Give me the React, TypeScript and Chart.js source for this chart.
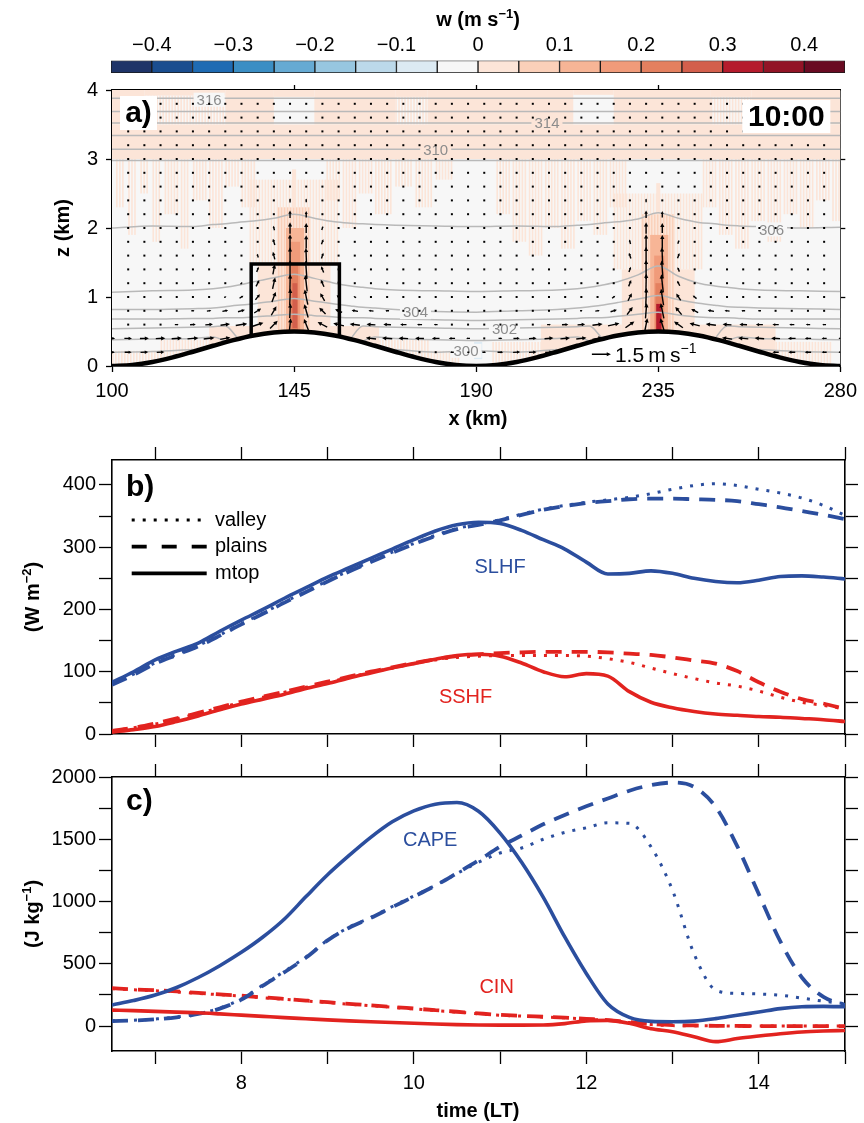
import React, { useEffect, useRef } from 'react';
import { Chart, registerables } from 'chart.js';

Chart.register(...registerables);

const FONT = "'Liberation Sans', Arial, Helvetica, sans-serif";
const BLUE = '#2b4e9e';
const RED = '#e2231f';
const BG = '#f7f7f7';

// ---------------- colour bar ----------------
const wEdges = [-0.45, -0.4, -0.35, -0.3, -0.25, -0.2, -0.15, -0.1, -0.05, 0, 0.05, 0.1, 0.15, 0.2, 0.25, 0.3, 0.35, 0.4, 0.45];
const wColors = ['#1f3468', '#1a4d8f', '#1f6bb3', '#3b8ec4', '#66aad3', '#97c6e0', '#bcd9ea', '#dceaf3', '#f7f7f7', '#fce5d8', '#fbd0b9', '#f7b596', '#f09b7a', '#e4805f', '#d35f4c', '#b51b2c', '#921426', '#690b22'];
const cbTickVals = [-0.4, -0.3, -0.2, -0.1, 0, 0.1, 0.2, 0.3, 0.4];
const cbTickLabels = ['\u22120.4', '\u22120.3', '\u22120.2', '\u22120.1', '0', '0.1', '0.2', '0.3', '0.4'];

// ---------------- panel a ----------------
const xKmTicks = [100, 145, 190, 235, 280];
const zKmTicks = [0, 1, 2, 3, 4];
const terrainX = [100, 105, 110, 115, 120, 125, 130, 135, 140, 145, 150, 155, 160, 165, 170, 175, 180, 185, 190, 195, 200, 205, 210, 215, 220, 225, 230, 235, 240, 245, 250, 255, 260, 265, 270, 275, 280];
const terrainZ = [0, 0.015, 0.058, 0.125, 0.207, 0.293, 0.375, 0.442, 0.485, 0.5, 0.485, 0.442, 0.375, 0.293, 0.207, 0.125, 0.058, 0.015, 0, 0.015, 0.058, 0.125, 0.207, 0.293, 0.375, 0.442, 0.485, 0.5, 0.485, 0.442, 0.375, 0.293, 0.207, 0.125, 0.058, 0.015, 0];
const boxX = [134.4, 134.4, 156.2, 156.2];
const boxZ = [0.43, 1.48, 1.48, 0.43];

// potential temperature contours (K)
const flatContourZ = [3.88, 3.69, 3.52, 3.34, 3.14, 2.98];
const contourX = [100, 110, 120, 125, 128, 131, 135, 140, 145, 150, 155, 159, 162, 165, 170, 180, 190, 200, 210, 215, 218, 221, 225, 230, 235, 240, 245, 249, 252, 255, 260, 270, 280];
const theta306 = [2.0, 2.03, 2.02, 2.05, 2.06, 2.08, 2.1, 2.14, 2.2, 2.14, 2.09, 2.07, 2.06, 2.05, 2.04, 2.03, 2.02, 2.03, 2.02, 2.04, 2.05, 2.07, 2.09, 2.13, 2.22, 2.14, 2.08, 2.06, 2.04, 2.03, 2.02, 2.0, 2.01];
const theta305 = [1.07, 1.09, 1.1, 1.12, 1.14, 1.17, 1.22, 1.28, 1.33, 1.27, 1.2, 1.16, 1.14, 1.12, 1.1, 1.09, 1.08, 1.09, 1.1, 1.12, 1.14, 1.17, 1.22, 1.32, 1.45, 1.3, 1.2, 1.16, 1.14, 1.12, 1.1, 1.09, 1.08];
const theta304 = [0.82, 0.82, 0.83, 0.84, 0.86, 0.88, 0.9, 0.94, 0.98, 0.94, 0.9, 0.87, 0.85, 0.84, 0.82, 0.79, 0.78, 0.8, 0.82, 0.84, 0.86, 0.88, 0.92, 0.97, 1.02, 0.96, 0.91, 0.88, 0.86, 0.85, 0.84, 0.83, 0.82];
const theta303 = [0.68, 0.68, 0.69, 0.69, 0.7, 0.7, 0.71, 0.73, 0.75, 0.73, 0.71, 0.7, 0.7, 0.69, 0.68, 0.67, 0.66, 0.67, 0.68, 0.69, 0.7, 0.7, 0.72, 0.75, 0.78, 0.74, 0.71, 0.7, 0.7, 0.69, 0.68, 0.68, 0.68];
const theta302 = [0.54, 0.55, 0.56, 0.57, 0.58, 0.41, null, null, null, null, null, 0.4, 0.58, 0.57, 0.56, 0.55, 0.54, 0.55, 0.56, 0.57, 0.58, 0.41, null, null, null, null, null, 0.4, 0.58, 0.57, 0.56, 0.55, 0.54];
const theta301 = [0.38, 0.39, 0.4, 0.42, 0.36, null, null, null, null, null, null, null, 0.36, 0.42, 0.4, 0.38, 0.37, 0.38, 0.4, 0.42, 0.36, null, null, null, null, null, null, null, 0.36, 0.42, 0.4, 0.39, 0.38];
const theta300 = [0.2, 0.21, 0.24, null, null, null, null, null, null, null, null, null, null, null, 0.24, 0.2, 0.22, 0.2, 0.24, null, null, null, null, null, null, null, null, null, null, null, 0.24, 0.21, 0.2];
const contourLabelText = ['316', '314', '310', '306', '304', '302', '300'];
const contourLabelX = [124, 207.5, 180, 263, 175, 197, 187.5];
const contourLabelZ = [3.86, 3.52, 3.13, 1.98, 0.78, 0.54, 0.22];

// vertical velocity field, [x0, x1, z0, z1, w, streaky]
const wCells: number[][] = [
  [100, 280, 3.0, 3.5, 0.02, 0], [100, 108, 3.5, 4.0, 0.02, 0], [128, 140, 3.5, 4.0, 0.02, 0], [150, 170, 3.5, 4.0, 0.02, 0],
  [178, 214, 3.5, 4.0, 0.02, 0], [224, 248, 3.5, 4.0, 0.02, 0], [258, 280, 3.5, 4.0, 0.02, 0], [108, 128, 3.92, 4.0, 0.02, 0],
  [140, 150, 3.9, 4.0, 0.02, 0], [170, 178, 3.9, 4.0, 0.02, 0], [214, 224, 3.93, 4.0, 0.02, 0], [248, 258, 3.9, 4.0, 0.02, 0],
  [108, 128, 3.5, 3.92, 0.02, 1], [170, 178, 3.5, 3.9, 0.02, 1], [248, 258, 3.5, 3.9, 0.02, 1],
  [101, 103, 2.3, 3.0, 0.02, 1], [104, 106, 1.9, 3.0, 0.02, 1], [107, 109, 2.5, 3.0, 0.02, 1], [110, 112, 1.8, 3.0, 0.02, 1],
  [113, 116, 2.2, 3.0, 0.02, 1], [117, 119, 1.7, 3.0, 0.02, 1], [120, 123, 2.4, 3.0, 0.02, 1], [124, 127, 2.0, 3.0, 0.02, 1],
  [128, 131, 2.6, 3.0, 0.02, 1], [132, 135, 2.3, 3.0, 0.02, 1],
  [153, 156, 2.4, 3.0, 0.02, 1], [157, 160, 2.0, 3.0, 0.02, 1], [161, 164, 2.5, 3.0, 0.02, 1], [165, 169, 2.2, 3.0, 0.02, 1],
  [170, 174, 2.6, 3.0, 0.02, 1], [175, 179, 2.3, 3.0, 0.02, 1], [180, 184, 2.7, 3.0, 0.02, 1],
  [195, 198, 2.2, 3.0, 0.02, 1], [199, 202, 1.8, 3.0, 0.02, 1], [203, 206, 1.6, 3.0, 0.02, 1], [207, 210, 2.0, 3.0, 0.02, 1],
  [211, 214, 1.7, 3.0, 0.02, 1], [215, 218, 2.1, 3.0, 0.02, 1], [219, 222, 1.9, 3.0, 0.02, 1], [223, 227, 2.3, 3.0, 0.02, 1],
  [246, 249, 2.3, 3.0, 0.02, 1], [250, 253, 1.9, 3.0, 0.02, 1], [254, 257, 1.7, 3.0, 0.02, 1], [258, 261, 2.1, 3.0, 0.02, 1],
  [262, 265, 1.8, 3.0, 0.02, 1], [266, 269, 2.2, 3.0, 0.02, 1], [270, 273, 2.0, 3.0, 0.02, 1], [274, 277, 2.4, 3.0, 0.02, 1],
  [278, 280, 2.1, 3.0, 0.02, 1],
  [100, 112, 0, 0.22, 0.02, 1], [112, 124, 0, 0.38, 0.02, 1], [124, 138, 0, 0.58, 0.02, 0], [152, 166, 0, 0.58, 0.02, 0],
  [166, 178, 0, 0.38, 0.02, 1], [178, 186, 0, 0.22, 0.02, 1], [194, 206, 0, 0.35, 0.02, 1], [206, 226, 0, 0.6, 0.02, 0],
  [244, 264, 0, 0.6, 0.02, 0], [264, 278, 0, 0.35, 0.02, 1], [189.5, 191.5, 0.1, 0.35, -0.07, 0],
  [134, 156, 1.5, 2.7, 0.02, 1], [136, 154, 0.45, 1.5, 0.02, 0], [141, 149, 0.5, 2.3, 0.07, 1], [143, 147.5, 0.5, 2.0, 0.12, 0], [144, 146.5, 0.5, 1.8, 0.17, 0],
  [144.3, 146, 0.5, 1.5, 0.22, 0], [144.6, 145.8, 0.55, 1.2, 0.28, 0], [144.5, 145.5, 2.3, 2.85, 0.02, 0],
  [224, 246, 1.4, 2.5, 0.02, 1], [226, 244, 0.45, 1.4, 0.02, 0], [231, 239, 0.5, 2.2, 0.07, 1], [233, 237.5, 0.5, 1.9, 0.12, 0], [234, 236.5, 0.5, 1.6, 0.17, 0],
  [234.3, 236, 0.5, 1.2, 0.22, 0], [234.5, 235.8, 0.52, 0.9, 0.32, 0], [234.5, 235.5, 2.2, 2.65, 0.02, 0],
];

// wind vectors: sample grid and the non-negligible arrows [x, z, u, w]
const vecX = [104, 108, 112, 116, 120, 124, 128, 132, 136, 140, 144, 148, 152, 156, 160, 164, 168, 172, 176, 180, 184, 188, 192, 196, 200, 204, 208, 212, 216, 220, 224, 228, 232, 236, 240, 244, 248, 252, 256, 260, 264, 268, 272, 276];
const vecZ = [0.2, 0.4, 0.6, 0.8, 1.0, 1.2, 1.4, 1.6, 1.8, 2.0, 2.2, 2.4, 2.6, 2.8, 3.0, 3.2, 3.4, 3.6, 3.8];
const windArrows: number[][] = [
  [100, 0.2, 0.45, 0], [104, 0.2, 0.55, 0], [108, 0.2, 0.6, 0.02], [112, 0.2, 0.6, 0.03], [184, 0.2, -0.3, 0], [188, 0.2, -0.2, 0],
  [100, 0.4, 0.5, 0], [104, 0.4, 0.6, 0], [108, 0.4, 0.7, 0.02], [112, 0.4, 0.75, 0.03], [116, 0.4, 0.8, 0.05], [120, 0.4, 0.85, 0.08],
  [124, 0.4, 0.85, 0.1], [128, 0.4, 0.8, 0.15], [164, 0.4, -0.8, 0.1], [168, 0.4, -0.8, 0.06], [172, 0.4, -0.75, 0.04],
  [176, 0.4, -0.7, 0.02], [180, 0.4, -0.6, 0], [184, 0.4, -0.5, 0], [188, 0.4, -0.3, 0],
  [116, 0.6, 0.3, 0], [120, 0.6, 0.45, 0.03], [124, 0.6, 0.6, 0.05], [128, 0.6, 0.75, 0.1], [132, 0.6, 0.9, 0.15], [136, 0.6, 0.9, 0.3],
  [140, 0.6, 0.6, 0.6], [144, 0.6, 0.1, 1.0], [148, 0.6, -0.35, 0.9], [152, 0.6, -0.75, 0.4], [156, 0.6, -0.85, 0.2], [160, 0.6, -0.8, 0.1],
  [164, 0.6, -0.7, 0.05], [168, 0.6, -0.6, 0.02], [172, 0.6, -0.5, 0], [176, 0.6, -0.4, 0], [180, 0.6, -0.3, 0],
  [120, 0.8, 0.25, 0], [124, 0.8, 0.35, 0.05], [128, 0.8, 0.45, 0.1], [132, 0.8, 0.55, 0.15], [136, 0.8, 0.55, 0.35], [140, 0.8, 0.4, 0.7],
  [144, 0.8, 0.05, 1.15], [148, 0.8, -0.3, 1.05], [152, 0.8, -0.5, 0.5], [156, 0.8, -0.55, 0.25], [160, 0.8, -0.5, 0.1], [164, 0.8, -0.4, 0.05], [168, 0.8, -0.3, 0],
  [128, 1.0, 0.2, 0.05], [132, 1.0, 0.3, 0.2], [136, 1.0, 0.35, 0.45], [140, 1.0, 0.3, 0.8], [144, 1.0, 0.05, 1.3], [148, 1.0, -0.25, 1.2],
  [152, 1.0, -0.35, 0.6], [156, 1.0, -0.3, 0.3], [160, 1.0, -0.2, 0.1],
  [132, 1.2, 0.15, 0.15], [136, 1.2, 0.25, 0.5], [140, 1.2, 0.2, 0.9], [144, 1.2, 0.03, 1.4], [148, 1.2, -0.15, 1.3], [152, 1.2, -0.25, 0.55], [156, 1.2, -0.15, 0.25],
  [136, 1.4, 0.15, 0.4], [140, 1.4, 0.15, 0.8], [144, 1.4, 0, 1.45], [148, 1.4, -0.1, 1.35], [152, 1.4, -0.2, 0.5],
  [136, 1.6, -0.1, 0.3], [140, 1.6, -0.15, 0.6], [144, 1.6, 0, 1.3], [148, 1.6, -0.05, 1.2], [152, 1.6, 0.15, 0.45],
  [140, 1.8, -0.15, 0.5], [144, 1.8, 0, 1.2], [148, 1.8, 0, 1.05], [152, 1.8, 0.15, 0.4],
  [140, 2.0, -0.1, 0.35], [144, 2.0, 0, 0.9], [148, 2.0, 0, 0.8], [152, 2.0, 0.1, 0.3],
  [144, 2.2, 0, 0.6], [148, 2.2, 0, 0.5], [144, 2.4, 0, 0.35], [148, 2.4, 0, 0.3],
  [192, 0.2, 0.3, 0], [196, 0.2, 0.45, 0], [200, 0.2, 0.55, 0.02], [204, 0.2, 0.6, 0.03], [208, 0.2, 0.6, 0.04],
  [264, 0.2, -0.5, 0], [268, 0.2, -0.55, 0], [272, 0.2, -0.5, 0], [276, 0.2, -0.4, 0], [280, 0.2, -0.3, 0],
  [196, 0.4, 0.3, 0], [200, 0.4, 0.5, 0.02], [204, 0.4, 0.6, 0.03], [208, 0.4, 0.7, 0.05], [212, 0.4, 0.75, 0.07], [216, 0.4, 0.8, 0.1],
  [220, 0.4, 0.8, 0.15], [252, 0.4, -0.8, 0.12], [256, 0.4, -0.8, 0.08], [260, 0.4, -0.75, 0.05], [264, 0.4, -0.7, 0.03],
  [268, 0.4, -0.6, 0], [272, 0.4, -0.5, 0], [276, 0.4, -0.4, 0], [280, 0.4, -0.3, 0],
  [208, 0.6, 0.3, 0], [212, 0.6, 0.5, 0.03], [216, 0.6, 0.6, 0.05], [220, 0.6, 0.8, 0.1], [224, 0.6, 0.9, 0.2], [228, 0.6, 0.7, 0.5],
  [232, 0.6, 0.2, 1.0], [236, 0.6, -0.3, 1.0], [240, 0.6, -0.7, 0.5], [244, 0.6, -0.8, 0.2], [248, 0.6, -0.8, 0.1], [252, 0.6, -0.7, 0.05],
  [256, 0.6, -0.6, 0.02], [260, 0.6, -0.55, 0], [264, 0.6, -0.5, 0], [268, 0.6, -0.4, 0], [272, 0.6, -0.35, 0], [276, 0.6, -0.3, 0],
  [216, 0.8, 0.2, 0], [220, 0.8, 0.35, 0.05], [224, 0.8, 0.5, 0.15], [228, 0.8, 0.45, 0.6], [232, 0.8, 0.1, 1.2], [236, 0.8, -0.25, 1.2],
  [240, 0.8, -0.5, 0.6], [244, 0.8, -0.55, 0.3], [248, 0.8, -0.5, 0.1], [252, 0.8, -0.4, 0.05], [256, 0.8, -0.3, 0], [260, 0.8, -0.25, 0],
  [224, 1.0, 0.25, 0.2], [228, 1.0, 0.3, 0.6], [232, 1.0, 0.05, 1.4], [236, 1.0, -0.2, 1.3], [240, 1.0, -0.35, 0.55], [244, 1.0, -0.3, 0.25],
  [228, 1.2, 0.2, 0.5], [232, 1.2, 0.03, 1.5], [236, 1.2, -0.15, 1.4], [240, 1.2, -0.2, 0.4],
  [228, 1.4, 0.15, 0.4], [232, 1.4, 0, 1.5], [236, 1.4, -0.1, 1.4], [240, 1.4, -0.15, 0.35],
  [228, 1.6, -0.15, 0.45], [232, 1.6, 0, 1.4], [236, 1.6, -0.05, 1.3], [240, 1.6, 0.15, 0.4],
  [228, 1.8, -0.1, 0.35], [232, 1.8, 0, 1.2], [236, 1.8, 0, 1.1], [240, 1.8, 0.1, 0.3],
  [232, 2.0, 0, 0.9], [236, 2.0, 0, 0.8], [232, 2.2, 0, 0.6], [236, 2.2, 0, 0.5], [232, 2.4, 0, 0.3],
];
const refArrowX = 218.6;
const refArrowZ = 0.17;
const refArrowU = 1.5;

// ---------------- panels b and c ----------------
const times = [6.5, 6.75, 7, 7.25, 7.5, 7.75, 8, 8.25, 8.5, 8.75, 9, 9.25, 9.5, 9.75, 10, 10.25, 10.5, 10.75, 11, 11.25, 11.5, 11.75, 12, 12.25, 12.5, 12.75, 13, 13.25, 13.5, 13.75, 14, 14.25, 14.5, 14.75, 15];
const hourTicks = [7, 8, 9, 10, 11, 12, 13, 14, 15];
const fluxTicks = [0, 50, 100, 150, 200, 250, 300, 350, 400];
const energyTicks = [0, 250, 500, 750, 1000, 1250, 1500, 1750, 2000];

const slhfMtop = [83, 100, 119, 133, 146, 165, 183, 200, 218, 235, 252, 267, 282, 297, 312, 326, 336, 340, 338, 327, 312, 297, 276, 257, 258, 262, 258, 250, 245, 243, 247, 253, 254, 252, 249];
const slhfPlains = [79, 95, 113, 127, 141, 158, 176, 193, 211, 228, 245, 261, 276, 291, 305, 318, 329, 336, 343, 352, 360, 366, 371, 374, 377, 378, 378, 377, 376, 374, 369, 364, 358, 352, 345];
const slhfValley = [80, 96, 114, 128, 142, 159, 177, 194, 212, 229, 246, 262, 277, 292, 306, 319, 330, 337, 344, 353, 361, 367, 372, 376, 380, 386, 393, 399, 402, 399, 393, 387, 379, 367, 351];
const sshfMtop = [3, 7, 12, 20, 29, 39, 48, 56, 64, 73, 81, 90, 98, 106, 113, 120, 126, 128, 125, 114, 100, 92, 97, 93, 68, 51, 42, 36, 32, 30, 28, 27, 25, 23, 20];
const sshfPlains = [5, 10, 17, 25, 34, 43, 52, 60, 68, 76, 84, 92, 100, 107, 114, 120, 125, 128, 130, 131, 132, 132, 132, 131, 129, 127, 123, 118, 113, 101, 83, 68, 56, 49, 40];
const sshfValley = [5, 10, 16, 24, 33, 42, 51, 59, 67, 75, 83, 91, 99, 106, 113, 119, 123, 125, 126, 126, 126, 126, 125, 121, 115, 106, 97, 89, 82, 77, 69, 59, 51, 46, 40];

const capeMtop = [169, 205, 249, 310, 390, 485, 592, 715, 860, 1040, 1215, 1370, 1515, 1640, 1728, 1782, 1795, 1725, 1550, 1315, 1035, 716, 423, 178, 70, 38, 35, 40, 60, 87, 113, 140, 155, 158, 155];
const capePlains = [40, 45, 55, 70, 97, 140, 212, 325, 433, 550, 688, 790, 868, 955, 1040, 1128, 1228, 1330, 1440, 1530, 1620, 1695, 1765, 1828, 1890, 1935, 1955, 1920, 1760, 1445, 1060, 680, 390, 235, 170];
const capeValley = [42, 47, 57, 72, 100, 145, 218, 330, 440, 555, 690, 795, 872, 960, 1045, 1130, 1225, 1315, 1390, 1430, 1500, 1555, 1592, 1632, 1628, 1440, 1090, 580, 290, 262, 258, 248, 225, 200, 180];
const cinMtop = [128, 124, 118, 112, 107, 98, 88, 78, 68, 59, 50, 42, 35, 29, 23, 17, 12, 9, 8, 8, 9, 20, 42, 46, 22, -22, -45, -85, -125, -100, -80, -62, -48, -40, -35];
const cinPlains = [305, 295, 288, 278, 266, 255, 244, 231, 218, 205, 192, 179, 166, 154, 141, 128, 115, 102, 90, 82, 75, 68, 58, 48, 32, 16, 8, 5, 2, 1, 0, 0, 0, 0, 0];
const cinValley = [300, 292, 284, 274, 263, 252, 241, 228, 215, 202, 189, 176, 163, 151, 138, 125, 112, 99, 87, 80, 73, 66, 56, 45, 28, 12, 4, 3, 2, 1, 1, 1, 0, 0, 0];

// ---------------- helpers ----------------
type Part = [string, boolean];
function richText(ctx: any, parts: Part[], x: number, y: number, size: number, weight: string, align: string, rotate: boolean, color = '#000') {
  ctx.save();
  ctx.translate(x, y);
  if (rotate) ctx.rotate(-Math.PI / 2);
  const big = `${weight} ${size}px ${FONT}`;
  const small = `${weight} ${Math.round(size * 0.66)}px ${FONT}`;
  let w = 0;
  for (const [t, sup] of parts) { ctx.font = sup ? small : big; w += ctx.measureText(t).width; }
  let cx = align === 'center' ? -w / 2 : 0;
  ctx.fillStyle = color;
  ctx.textAlign = 'left';
  ctx.textBaseline = 'alphabetic';
  const base = size * 0.36;
  for (const [t, sup] of parts) {
    ctx.font = sup ? small : big;
    ctx.fillText(t, cx, sup ? base - size * 0.42 : base);
    cx += ctx.measureText(t).width;
  }
  ctx.restore();
}

function colorForW(w: number) {
  for (let i = 0; i < wColors.length; i++) if (w >= wEdges[i] && w < wEdges[i + 1]) return wColors[i];
  return w < 0 ? wColors[0] : wColors[wColors.length - 1];
}

function terrainAt(x: number) {
  for (let i = 0; i < terrainX.length - 1; i++) {
    if (x >= terrainX[i] && x <= terrainX[i + 1]) {
      const f = (x - terrainX[i]) / (terrainX[i + 1] - terrainX[i]);
      return terrainZ[i] + f * (terrainZ[i + 1] - terrainZ[i]);
    }
  }
  return 0;
}

function drawArrow(ctx: any, cx: number, cy: number, dx: number, dy: number) {
  const len = Math.hypot(dx, dy);
  if (len < 2.2) { ctx.fillRect(cx - 1, cy - 1, 2, 2); return; }
  const x0 = cx - dx / 2, y0 = cy - dy / 2, x1 = cx + dx / 2, y1 = cy + dy / 2;
  const c = dx / len, s = dy / len;
  const hl = Math.min(4.2, len * 0.45), hw = hl * 0.5;
  ctx.beginPath();
  ctx.moveTo(x0, y0);
  ctx.lineTo(x1 - c * hl * 0.6, y1 - s * hl * 0.6);
  ctx.stroke();
  ctx.beginPath();
  ctx.moveTo(x1, y1);
  ctx.lineTo(x1 - hl * c + hw * s, y1 - hl * s - hw * c);
  ctx.lineTo(x1 - hl * c - hw * s, y1 - hl * s + hw * c);
  ctx.closePath();
  ctx.fill();
}

function axis(o: any) {
  const horiz = o.pos === 'top' || o.pos === 'bottom';
  return {
    type: 'linear',
    position: o.pos,
    min: o.min,
    max: o.max,
    afterBuildTicks: (s: any) => { s.ticks = o.ticks.map((v: number) => ({ value: v })); },
    afterFit: (s: any) => { if (horiz) s.height = o.size; else s.width = o.size; },
    grid: { drawOnChartArea: false, drawTicks: true, tickLength: o.tickLen, tickWidth: 1.3, tickColor: '#000', color: '#000' },
    border: { display: true, color: '#000', width: o.border || 1.6 },
    ticks: {
      display: !!o.label,
      callback: (v: any) => (o.label ? o.label(Number(v)) : ''),
      font: { family: FONT, size: 20 },
      color: '#000',
      padding: o.pad === undefined ? 6 : o.pad,
      autoSkip: false,
      maxRotation: 0,
      minRotation: 0,
    },
  };
}

const baseOptions = {
  responsive: false,
  animation: false,
  events: [],
  layout: { padding: 0 },
  plugins: { legend: { display: false }, tooltip: { enabled: false } },
};

// ---------------- charts ----------------
function makeColorbar(canvas: HTMLCanvasElement) {
  return new Chart(canvas, {
    type: 'bar',
    data: {
      labels: ['w'],
      datasets: wColors.map((c, i) => ({
        data: [[wEdges[i], wEdges[i + 1]]],
        backgroundColor: c,
        borderColor: '#1a1a1a',
        borderWidth: 1,
        borderSkipped: false,
        grouped: false,
        barPercentage: 1,
        categoryPercentage: 1,
      })),
    } as any,
    options: {
      ...baseOptions,
      indexAxis: 'y',
      layout: { padding: { left: 111, right: 19, bottom: 7, top: 0 } },
      scales: {
        x: {
          type: 'linear', position: 'top', min: -0.45, max: 0.45,
          afterBuildTicks: (s: any) => { s.ticks = cbTickVals.map((v) => ({ value: v })); },
          afterFit: (s: any) => { s.height = 60.5; },
          grid: { display: false, drawTicks: false },
          border: { display: false },
          ticks: { callback: (_v: any, i: number) => cbTickLabels[i], font: { family: FONT, size: 20 }, color: '#000', padding: 3, autoSkip: false, maxRotation: 0 },
        },
        y: { display: false },
      },
    } as any,
    plugins: [{
      id: 'cbTitle',
      afterDraw(chart: any) {
        richText(chart.ctx, [['w (m s', false], ['\u22121', true], [')', false]], 478, 19, 20, 'bold', 'center', false);
      },
    }],
  });
}

function makePanelA(canvas: HTMLCanvasElement, top: number) {
  const contourStyle = { showLine: true, pointRadius: 0, borderColor: '#b9b9b9', borderWidth: 1.5, order: 10 };
  const datasets: any[] = [];
  for (const z of flatContourZ) datasets.push({ ...contourStyle, data: [{ x: 100, y: z }, { x: 280, y: z }] });
  for (const arr of [theta306, theta305, theta304, theta303, theta302, theta301, theta300]) {
    datasets.push({ ...contourStyle, cubicInterpolationMode: 'monotone', data: contourX.map((x, i) => ({ x, y: arr[i] })) });
  }
  datasets.push({
    showLine: true, pointRadius: 0, borderColor: '#000', borderWidth: 4.5, backgroundColor: '#ffffff', fill: 'origin',
    cubicInterpolationMode: 'monotone', order: 1, data: terrainX.map((x, i) => ({ x, y: terrainZ[i] })),
  });
  datasets.push({
    showLine: true, pointRadius: 0, borderColor: '#000', borderWidth: 3.5, borderJoinStyle: 'miter', order: 0,
    data: boxX.map((x, i) => ({ x, y: boxZ[i] })),
  });

  const shade = {
    id: 'shade',
    beforeDatasetsDraw(chart: any) {
      const { ctx, chartArea: a, scales } = chart;
      const sx = scales.x, sy = scales.y;
      ctx.save();
      ctx.beginPath();
      ctx.rect(a.left, a.top, a.right - a.left, a.bottom - a.top);
      ctx.clip();
      ctx.fillStyle = BG;
      ctx.fillRect(a.left, a.top, a.right - a.left, a.bottom - a.top);
      for (const [x0, x1, z0, z1, w, streaky] of wCells) {
        const p0 = sx.getPixelForValue(x0), p1 = sx.getPixelForValue(x1);
        const q0 = sy.getPixelForValue(z0), q1 = sy.getPixelForValue(z1);
        ctx.fillStyle = colorForW(w);
        if (streaky) {
          for (let px = p0; px < p1; px += 3) ctx.fillRect(px, q1, 1.6, q0 - q1);
        } else {
          ctx.fillRect(p0, q1, p1 - p0, q0 - q1);
        }
      }
      ctx.restore();
    },
  };

  const overlay = {
    id: 'overlay',
    afterDatasetsDraw(chart: any) {
      const { ctx, chartArea: a, scales } = chart;
      const sx = scales.x, sy = scales.y;
      const k = 12.7;
      ctx.save();
      ctx.beginPath();
      ctx.rect(a.left, a.top, a.right - a.left, a.bottom - a.top);
      ctx.clip();
      // contour labels
      ctx.font = `15px ${FONT}`;
      ctx.textAlign = 'center';
      ctx.textBaseline = 'middle';
      contourLabelText.forEach((t, i) => {
        const px = sx.getPixelForValue(contourLabelX[i]);
        const py = sy.getPixelForValue(contourLabelZ[i]);
        let col = BG;
        for (const [x0, x1, z0, z1, w, streaky] of wCells) {
          if (!streaky && contourLabelX[i] >= x0 && contourLabelX[i] <= x1 && contourLabelZ[i] >= z0 && contourLabelZ[i] <= z1) col = colorForW(w);
        }
        const tw = ctx.measureText(t).width;
        ctx.fillStyle = col;
        ctx.fillRect(px - tw / 2 - 3, py - 7, tw + 6, 14);
        ctx.fillStyle = '#8c8c8c';
        ctx.fillText(t, px, py + 1);
      });
      // vectors
      ctx.fillStyle = '#000';
      ctx.strokeStyle = '#000';
      ctx.lineWidth = 1.4;
      const have = new Set(windArrows.map((v) => `${v[0]}_${Math.round(v[1] * 10)}`));
      for (const gx of vecX) {
        for (const gz of vecZ) {
          if (have.has(`${gx}_${Math.round(gz * 10)}`)) continue;
          if (gz < terrainAt(gx) + 0.06) continue;
          const px = sx.getPixelForValue(gx), py = sy.getPixelForValue(gz);
          ctx.fillRect(px - 1, py - 1, 2, 2);
        }
      }
      for (const [vx, vz, u, w] of windArrows) {
        drawArrow(ctx, sx.getPixelForValue(vx), sy.getPixelForValue(vz), u * k, -w * k);
      }
      // reference vector
      const rx = sx.getPixelForValue(refArrowX), ry = sy.getPixelForValue(refArrowZ);
      drawArrow(ctx, rx + (refArrowU * k) / 2, ry, refArrowU * k, 0);
      richText(ctx, [['1.5\u2009m\u2009s', false], ['\u22121', true]], rx + refArrowU * k + 4, ry, 21, 'normal', 'left', false);
      // panel label and time
      ctx.fillStyle = '#fff';
      ctx.fillRect(a.left + 8, a.top + 6, 37, 34);
      ctx.fillRect(a.right - 98, a.top + 10, 88, 33);
      ctx.fillStyle = '#000';
      ctx.font = `bold 30px ${FONT}`;
      ctx.textAlign = 'center';
      ctx.textBaseline = 'middle';
      ctx.fillText('a)', a.left + 26.5, a.top + 24);
      ctx.fillText('10:00', a.right - 54, a.top + 28);
      ctx.restore();
    },
    afterDraw(chart: any) {
      richText(chart.ctx, [['z (km)', false]], 62, 228 - top, 20, 'bold', 'center', true);
      richText(chart.ctx, [['x (km)', false]], 478, 418 - top, 20, 'bold', 'center', false);
    },
  };

  return new Chart(canvas, {
    type: 'scatter',
    data: { datasets },
    options: {
      ...baseOptions,
      scales: {
        x: axis({ pos: 'bottom', min: 100, max: 280, ticks: xKmTicks, label: (v: number) => String(v), size: 74, tickLen: 6, pad: 7, border: 1.8 }),
        x2: axis({ pos: 'top', min: 100, max: 280, ticks: [145, 190, 235], size: 25, tickLen: 5, border: 1.8 }),
        y: axis({ pos: 'left', min: 0, max: 4, ticks: zKmTicks, label: (v: number) => String(v), size: 112, tickLen: 6, pad: 8, border: 1.8 }),
        y2: axis({ pos: 'right', min: 0, max: 4, ticks: [1, 2, 3], size: 19, tickLen: 5, border: 1.8 }),
      },
    } as any,
    plugins: [shade, overlay],
  });
}

function series(arr: number[], color: string, kind: string) {
  const base: any = {
    showLine: true, pointRadius: 0, borderColor: color, cubicInterpolationMode: 'monotone',
    data: times.map((t, i) => ({ x: t, y: arr[i] })),
  };
  if (kind === 'solid') return { ...base, borderWidth: 3.6, order: 1 };
  if (kind === 'dashed') return { ...base, borderWidth: 3.8, borderDash: [16, 10], order: 2 };
  return { ...base, borderWidth: 3, borderDash: [3, 8], order: 3 };
}

function timeAxes(bottomSize: number, topSize: number, labels: boolean) {
  return {
    x: axis({ pos: 'bottom', min: 6.5, max: 15, ticks: hourTicks, label: labels ? (v: number) => (v % 2 === 0 ? String(v) : '') : undefined, size: bottomSize, tickLen: 13, pad: 7 }),
    x2: axis({ pos: 'top', min: 6.5, max: 15, ticks: hourTicks, size: topSize, tickLen: 13 }),
  };
}

function makePanelB(canvas: HTMLCanvasElement, top: number) {
  const overlay = {
    id: 'overlayB',
    afterDatasetsDraw(chart: any) {
      const { ctx, chartArea: a, scales } = chart;
      ctx.save();
      ctx.fillStyle = '#000';
      ctx.font = `bold 30px ${FONT}`;
      ctx.textAlign = 'left';
      ctx.textBaseline = 'middle';
      ctx.fillText('b)', a.left + 14, a.top + 28);
      const legend: [string, number[], number][] = [['valley', [3, 8], 3], ['plains', [15, 15], 3.8], ['mtop', [], 3.6]];
      legend.forEach(([name, dash, lw], i) => {
        const y = a.top + 60 + i * 26.7;
        ctx.strokeStyle = '#000';
        ctx.lineWidth = lw;
        ctx.setLineDash(dash);
        ctx.beginPath();
        ctx.moveTo(a.left + 19.7, y);
        ctx.lineTo(a.left + 94.7, y);
        ctx.stroke();
        ctx.setLineDash([]);
        ctx.font = `20px ${FONT}`;
        ctx.fillText(name, a.left + 103, y);
      });
      ctx.font = `20px ${FONT}`;
      ctx.textAlign = 'center';
      ctx.fillStyle = BLUE;
      ctx.fillText('SLHF', scales.x.getPixelForValue(11.0), scales.y.getPixelForValue(267));
      ctx.fillStyle = RED;
      ctx.fillText('SSHF', scales.x.getPixelForValue(10.6), scales.y.getPixelForValue(59));
      ctx.restore();
    },
    afterDraw(chart: any) {
      richText(chart.ctx, [['(W m', false], ['\u22122', true], [')', false]], 32, 597 - top, 20, 'bold', 'center', true);
    },
  };
  return new Chart(canvas, {
    type: 'scatter',
    data: {
      datasets: [
        series(slhfValley, BLUE, 'dotted'), series(slhfPlains, BLUE, 'dashed'), series(slhfMtop, BLUE, 'solid'),
        series(sshfValley, RED, 'dotted'), series(sshfPlains, RED, 'dashed'), series(sshfMtop, RED, 'solid'),
      ],
    },
    options: {
      ...baseOptions,
      scales: {
        ...timeAxes(22, 20, false),
        y: axis({ pos: 'left', min: 0, max: 440, ticks: fluxTicks, label: (v: number) => (v % 100 === 0 ? String(v) : ''), size: 112, tickLen: 13, pad: 3 }),
        y2: axis({ pos: 'right', min: 0, max: 440, ticks: fluxTicks, size: 19, tickLen: 13 }),
      },
    } as any,
    plugins: [overlay],
  });
}

function makePanelC(canvas: HTMLCanvasElement, top: number) {
  const overlay = {
    id: 'overlayC',
    afterDatasetsDraw(chart: any) {
      const { ctx, chartArea: a, scales } = chart;
      ctx.save();
      ctx.fillStyle = '#000';
      ctx.font = `bold 30px ${FONT}`;
      ctx.textAlign = 'left';
      ctx.textBaseline = 'middle';
      ctx.fillText('c)', a.left + 14, a.top + 25);
      ctx.font = `20px ${FONT}`;
      ctx.textAlign = 'center';
      ctx.fillStyle = BLUE;
      ctx.fillText('CAPE', scales.x.getPixelForValue(10.19), scales.y.getPixelForValue(1494));
      ctx.fillStyle = RED;
      ctx.fillText('CIN', scales.x.getPixelForValue(10.96), scales.y.getPixelForValue(313));
      ctx.restore();
    },
    afterDraw(chart: any) {
      richText(chart.ctx, [['(J kg', false], ['\u22121', true], [')', false]], 32, 914 - top, 20, 'bold', 'center', true);
      richText(chart.ctx, [['time (LT)', false]], 478, 1110 - top, 20, 'bold', 'center', false);
    },
  };
  return new Chart(canvas, {
    type: 'scatter',
    data: {
      datasets: [
        series(capeValley, BLUE, 'dotted'), series(capePlains, BLUE, 'dashed'), series(capeMtop, BLUE, 'solid'),
        series(cinValley, RED, 'dotted'), series(cinPlains, RED, 'dashed'), series(cinMtop, RED, 'solid'),
      ],
    },
    options: {
      ...baseOptions,
      scales: {
        ...timeAxes(72, 21, true),
        y: axis({ pos: 'left', min: -200, max: 2000, ticks: energyTicks, label: (v: number) => (v % 500 === 0 ? String(v) : ''), size: 112, tickLen: 13, pad: 3 }),
        y2: axis({ pos: 'right', min: -200, max: 2000, ticks: energyTicks, size: 19, tickLen: 13 }),
      },
    } as any,
    plugins: [overlay],
  });
}

function ChartCanvas({ top, height, make }: { top: number; height: number; make: (c: HTMLCanvasElement, top: number) => any }) {
  const ref = useRef<HTMLCanvasElement>(null);
  useEffect(() => {
    const chart = make(ref.current as HTMLCanvasElement, top);
    return () => chart.destroy();
  }, []);
  return <canvas ref={ref} width={864} height={height} style={{ position: 'absolute', left: 0, top, width: 864, height, display: 'block' }} />;
}

export default function App() {
  return (
    <div style={{ position: 'absolute', left: 0, top: 0, width: 864, height: 1123, background: '#ffffff', overflow: 'hidden' }}>
      <ChartCanvas top={65} height={375} make={makePanelA} />
      <ChartCanvas top={440} height={316} make={makePanelB} />
      <ChartCanvas top={756} height={367} make={makePanelC} />
      <ChartCanvas top={0} height={80} make={(c) => makeColorbar(c)} />
    </div>
  );
}
